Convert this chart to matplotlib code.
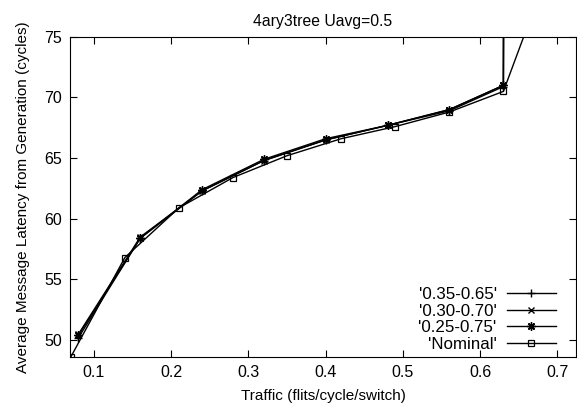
import matplotlib
matplotlib.use("Agg")
import matplotlib.pyplot as plt

plt.rcParams['font.family'] = ['Liberation Sans', 'DejaVu Sans']

# traffic (flits/cycle/switch) and latency (cycles)
x_var = [0.08, 0.16, 0.24, 0.32, 0.40, 0.48, 0.56, 0.63, 0.631]
y_35_65 = [50.2, 58.4, 62.3, 64.8, 66.5, 67.7, 68.9, 70.9, 100.0]
y_30_70 = [50.5, 58.5, 62.3, 64.8, 66.5, 67.7, 69.0, 71.0, 100.0]
y_25_75 = [50.4, 58.4, 62.4, 64.9, 66.6, 67.7, 69.0, 71.0, 100.0]

x_nom = [0.07, 0.14, 0.21, 0.28, 0.35, 0.42, 0.49, 0.56, 0.63, 0.70]
y_nom = [48.6, 56.8, 60.9, 63.4, 65.2, 66.6, 67.6, 68.8, 70.5, 82.5]

fig = plt.figure(figsize=(5.77, 4.09), dpi=100)
ax = fig.add_axes([0.1213, 0.127, 0.877, 0.783])

# gnuplot style points: plus, cross, asterisk (plus+cross), open square
ax.plot(x_var, y_35_65, '+-', c='k', lw=1, ms=6, label="'0.35-0.65'")
ax.plot(x_var, y_30_70, 'x-', c='k', lw=1, ms=5, label="'0.30-0.70'")
ax.plot(x_var, y_25_75, '-', marker=(8, 2, 0), c='k', lw=1, ms=6, mew=1, label="'0.25-0.75'")
ax.plot(x_nom, y_nom, 's-', c='k', lw=1, ms=5, mfc='none', mew=0.9, label="'Nominal'")

ax.set_xlim(0.069, 0.724)
ax.set_ylim(48.6, 75)
ax.set_xticks([0.1, 0.2, 0.3, 0.4, 0.5, 0.6, 0.7])
ax.set_yticks([50, 55, 60, 65, 70, 75])
ax.tick_params(direction='in', top=True, right=True, length=5, labelsize=11.5, pad=6)

ax.set_title("4ary3tree Uavg=0.5", fontsize=11.3, pad=8)
ax.set_xlabel("Traffic (flits/cycle/switch)", fontsize=11, labelpad=6)
ax.set_ylabel("Average Message Latency from Generation (cycles)", fontsize=11, labelpad=10)

ax.legend(loc='lower right', bbox_to_anchor=(1 - 20 / 506, 5 / 320),
          markerfirst=False, frameon=False, fontsize=12.2,
          handlelength=2.9, handletextpad=0.6, labelspacing=0.1,
          borderaxespad=0, borderpad=0)

fig.savefig("out.png", dpi=100)
